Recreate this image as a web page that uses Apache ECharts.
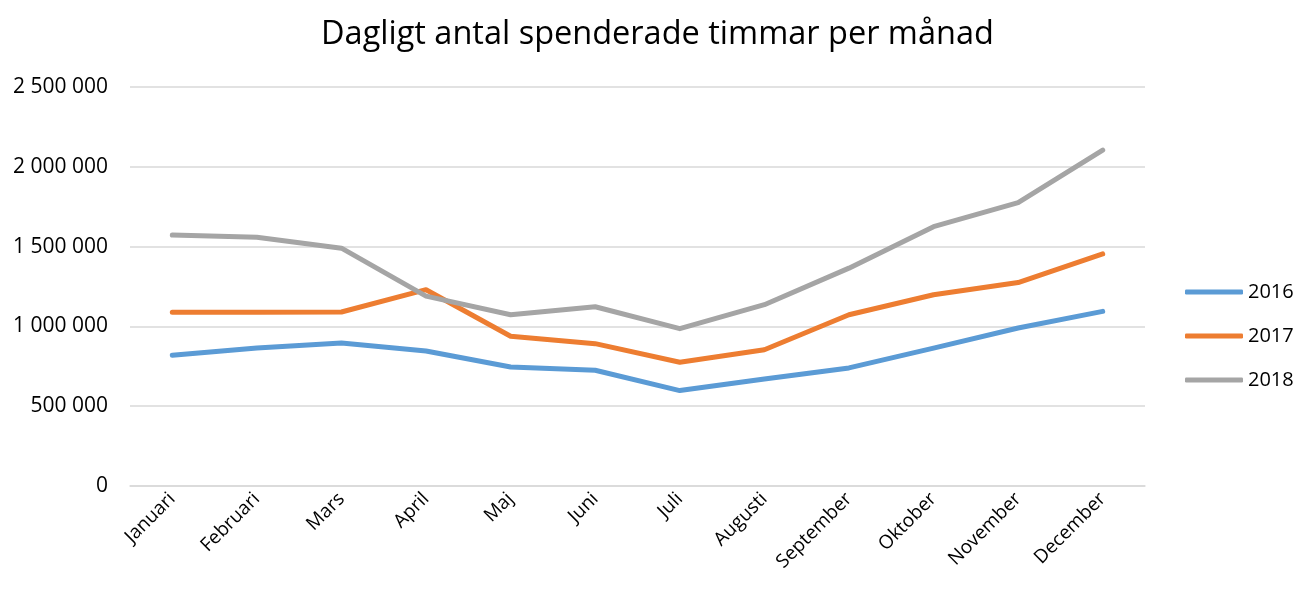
<!DOCTYPE html>
<html>
<head>
<meta charset="UTF-8">
<title>Dagligt antal spenderade timmar</title>
<script type="text/javascript" src="https://cdn.jsdelivr.net/npm/echarts@6/dist/echarts.min.js"></script>
<style>
  body{margin:0;background:#fff}
</style>
</head>
<body>
<div id="main" style="width:1295px;height:590px"></div>
<script type="text/javascript">
// månader och värden
var months = ['Januari','Februari','Mars','April','Maj','Juni','Juli','Augusti','September','Oktober','November','December'];
var y2016 = [819000, 864000, 896000, 846000, 746000, 725000, 598000, 671000, 740000, 864000, 990000, 1094000];
var y2017 = [1088000, 1088000, 1090000, 1230000, 938000, 892000, 775000, 854000, 1073000, 1198000, 1275000, 1454000];
var y2018 = [1573000, 1558000, 1490000, 1190000, 1073000, 1123000, 986000, 1136000, 1365000, 1625000, 1775000, 2105000];
var yTicks = [0, 500000, 1000000, 1500000, 2000000, 2500000];

var font = 'Open Sans';

function fmt(v){
  return String(v).replace(/\B(?=(\d{3})+(?!\d))/g, ' ');
}

function line(name, data, color){
  return {
    name: name,
    type: 'line',
    data: data,
    symbol: 'none',
    lineStyle: {width: 5, color: color, cap: 'round', join: 'round'},
    itemStyle: {color: color}
  };
}

var myChart = echarts.init(document.getElementById('main'));
var option = {
  animation: false,
  title: {
    text: 'Dagligt antal spenderade timmar per månad',
    left: 316,
    top: 13,
    textStyle: {fontFamily: font, fontSize: 32.5, fontWeight: 'normal', color: '#000'}
  },
  legend: {
    orient: 'vertical',
    left: 1180,
    top: 277,
    itemWidth: 58,
    itemHeight: 5,
    itemGap: 24,
    icon: 'roundRect',
    textStyle: {fontFamily: font, fontSize: 20, color: '#000'},
    data: ['2016', '2017', '2018']
  },
  grid: {left: 130, right: 150, top: 87, bottom: 104},
  xAxis: {
    type: 'category',
    data: months,
    boundaryGap: true,
    axisLine: {lineStyle: {color: '#d9d9d9', width: 1.5}},
    axisTick: {show: false},
    axisLabel: {rotate: 45, fontFamily: font, fontSize: 19, color: '#000', margin: 10}
  },
  yAxis: {
    type: 'value',
    min: yTicks[0],
    max: yTicks[yTicks.length - 1],
    interval: 500000,
    axisLine: {show: false},
    axisTick: {show: false},
    splitLine: {lineStyle: {color: '#d9d9d9', width: 1.5}},
    axisLabel: {fontFamily: font, fontSize: 21, color: '#000', margin: 22, formatter: fmt}
  },
  series: [
    line('2016', y2016, '#5B9BD5'),
    line('2017', y2017, '#ED7D31'),
    line('2018', y2018, '#A5A5A5')
  ]
};
myChart.setOption(option);
</script>
</body>
</html>
